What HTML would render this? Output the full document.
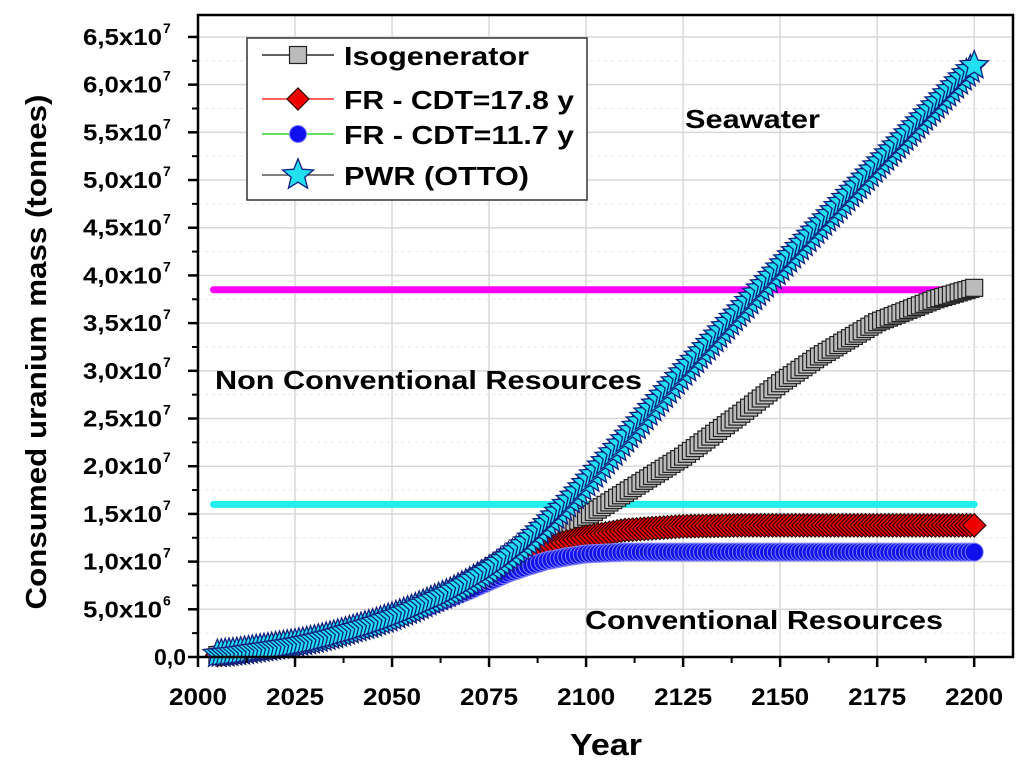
<!DOCTYPE html>
<html><head><meta charset="utf-8"><style>
body{margin:0;background:#fff;}
svg{display:block;font-family:"Liberation Sans",Arial,sans-serif;font-weight:bold;}
</style></head><body>
<svg id="chart" width="1024" height="767" viewBox="0 0 1024 767">
<g id="grid"></g>
<g id="refs"></g>
<g id="series"></g>
<rect x="198" y="15" width="815" height="642" fill="none" stroke="#000" stroke-width="2.5"/>
<g id="axes"></g>
<text x="685" y="128" font-size="26" textLength="135" lengthAdjust="spacingAndGlyphs">Seawater</text>
<text x="215" y="389" font-size="26" textLength="427" lengthAdjust="spacingAndGlyphs">Non Conventional Resources</text>
<text x="585" y="629" font-size="26" textLength="358" lengthAdjust="spacingAndGlyphs">Conventional Resources</text>
<text x="570" y="755" font-size="31" textLength="72" lengthAdjust="spacingAndGlyphs">Year</text>
<text transform="translate(46,352) rotate(-90)" font-size="29" text-anchor="middle" textLength="515" lengthAdjust="spacingAndGlyphs">Consumed uranium mass (tonnes)</text>
<g id="legend">
<rect x="247" y="38" width="340" height="162" fill="#fff" stroke="#333" stroke-width="1.5"/>
</g>
</svg>
<script>
const years = [2005,2010,2015,2020,2025,2030,2035,2040,2045,2050,2055,2060,2065,2070,2075,2080,2085,2090,2095,2100,2110,2125,2140,2150,2160,2175,2190,2200];
const isoValues = [0.02,0.04,0.07,0.10,0.13,0.17,0.22,0.28,0.34,0.41,0.48,0.56,0.65,0.76,0.88,1.00,1.13,1.25,1.36,1.47,1.72,2.10,2.55,2.87,3.15,3.51,3.75,3.87];
const fr178Values = [0.02,0.04,0.07,0.10,0.13,0.17,0.22,0.28,0.34,0.41,0.48,0.56,0.65,0.76,0.88,0.99,1.08,1.15,1.21,1.26,1.33,1.37,1.38,1.38,1.38,1.38,1.38,1.38];
const fr117Values = [0.02,0.04,0.07,0.10,0.13,0.17,0.22,0.28,0.34,0.40,0.47,0.54,0.62,0.70,0.79,0.88,0.95,1.01,1.05,1.08,1.10,1.10,1.10,1.10,1.10,1.10,1.10,1.10];
const pwrValues = [0.03,0.05,0.08,0.11,0.14,0.18,0.23,0.29,0.35,0.42,0.50,0.59,0.68,0.79,0.91,1.05,1.21,1.40,1.60,1.82,2.28,2.98,3.64,4.08,4.51,5.15,5.78,6.20];
const refYears = [2004,2200];
const seawaterLimit = 3.85;
const conventionalLimit = 1.60;
const xTicks = [2000,2025,2050,2075,2100,2125,2150,2175,2200];
const yTicks = [0,0.5,1,1.5,2,2.5,3,3.5,4,4.5,5,5.5,6,6.5];
const yTickLabels = ["0,0","5,0x10|6","1,0x10|7","1,5x10|7","2,0x10|7","2,5x10|7","3,0x10|7","3,5x10|7","4,0x10|7","4,5x10|7","5,0x10|7","5,5x10|7","6,0x10|7","6,5x10|7"];

const NS="http://www.w3.org/2000/svg";
const X0=198,X1=1013,Y0=657,Y1=15;
const xMin=2000,xMax=2210,yMin=0,yMax=6.73;
const sx=v=>X0+(v-xMin)/(xMax-xMin)*(X1-X0);
const sy=v=>Y0-(v-yMin)/(yMax-yMin)*(Y0-Y1);
function mk(tag,attrs,parent){const e=document.createElementNS(NS,tag);for(const k in attrs)e.setAttribute(k,attrs[k]);parent.appendChild(e);return e;}
const grid=document.getElementById('grid'),axes=document.getElementById('axes');
xTicks.forEach((t,i)=>{
  const x=sx(t);
  const g=mk('line',{x1:x,x2:x,y1:Y1,y2:Y0,stroke:'#d8d8d8','stroke-width':1.5},grid);
  
  
  const tk=mk('line',{x1:x,x2:x,y1:Y0,y2:Y0+10,stroke:'#000','stroke-width':2.5},axes);
  
  
  const mx=sx(t+12.5);
  if(mx<X1){const m=mk('line',{x1:mx,x2:mx,y1:Y0,y2:Y0+6,stroke:'#000','stroke-width':2},axes);
  
  }
  const lb=mk('text',{x:x-29,y:705,'font-size':24,textLength:58,lengthAdjust:'spacingAndGlyphs'},axes);
  lb.textContent=t;
  
  
});
yTicks.forEach((t,i)=>{
  const y=sy(t);
  const g=mk('line',{x1:X0,x2:X1,y1:y,y2:y,stroke:'#d8d8d8','stroke-width':1.5},grid);
  
  
  const tk=mk('line',{x1:X0-10,x2:X0,y1:y,y2:y,stroke:'#000','stroke-width':2.5},axes);
  
  
  const my=sy(t+0.25);
  if(my>Y1){const m=mk('line',{x1:X0-6,x2:X0,y1:my,y2:my,stroke:'#000','stroke-width':2},axes);
  
  
  const d=mk('line',{x1:X0,x2:X1,y1:my,y2:my,stroke:'#e6e6e6','stroke-width':1,'stroke-dasharray':'3,4'},grid);
  
  }
  const parts=yTickLabels[i].split('|');
  let lb;
  if(parts.length>1) lb=mk('text',{x:83,y:y+8,'font-size':23,textLength:79,lengthAdjust:'spacingAndGlyphs'},axes);
  else lb=mk('text',{x:186,y:y+8,'font-size':23,'text-anchor':'end'},axes);
  lb.textContent=parts[0];
  
  
  if(parts.length>1){const s=mk('text',{x:163,y:y-4,'font-size':14},axes);s.textContent=parts[1];
  
  }
});
const refs=document.getElementById('refs');
[[seawaterLimit,'#ff00ff','seawater-limit-line'],[conventionalLimit,'#22eeee','conventional-limit-line']].forEach(r=>{
  const l=mk('line',{x1:sx(refYears[0]),x2:sx(refYears[1]),y1:sy(r[0]),y2:sy(r[0]),stroke:r[1],'stroke-width':7,'stroke-linecap':'round'},refs);
  
  
});
function marker(type,x,y,p,s){
  if(type==='square') return mk('rect',{x:x-s/2,y:y-s/2,width:s,height:s,fill:'#bbb',stroke:'#222','stroke-width':1.2},p);
  if(type==='diamond') return mk('polygon',{points:`${x},${y-s*0.65} ${x+s*0.65},${y} ${x},${y+s*0.65} ${x-s*0.65},${y}`,fill:'#e00',stroke:'#300','stroke-width':1.2},p);
  if(type==='circle') return mk('circle',{cx:x,cy:y,r:s/2,fill:'#1010ee',stroke:'#8080ff','stroke-width':1},p);
  let pts=[];for(let k=0;k<10;k++){const a=-Math.PI/2+k*Math.PI/5,r=k%2?s*0.3:s*0.68;pts.push((x+r*Math.cos(a)).toFixed(1)+','+(y+r*Math.sin(a)).toFixed(1));}
  return mk('polygon',{points:pts.join(' '),fill:'#22e0f0',stroke:'#102080','stroke-width':1.3},p);
}
const ser=document.getElementById('series');
function drawSeries(vals,type,color,name,size){
  const g=mk('g',{},ser);
  
  
  const pts=years.map((yr,i)=>[sx(yr),sy(vals[i])]);
  const pl=mk('polyline',{points:pts.map(p=>p.join(',')).join(' '),fill:'none',stroke:color,'stroke-width':1.5},g);
  
  
  for(let i=0;i<pts.length-1;i++){
    const n=Math.max(1,Math.round((years[i+1]-years[i])));
    for(let k=0;k<n;k++){const t=k/n;
      const m=marker(type,pts[i][0]+(pts[i+1][0]-pts[i][0])*t,pts[i][1]+(pts[i+1][1]-pts[i][1])*t,g,size);
      
      }
  }
  const last=pts[pts.length-1];
  const m=marker(type,last[0],last[1],g,size);
  
  
}
drawSeries(isoValues,'square','#000','isogenerator-series',17);
drawSeries(fr178Values,'diamond','#f00','fr-cdt-17-8-series',18);
drawSeries(fr117Values,'circle','#0c0','fr-cdt-11-7-series',18);
drawSeries(pwrValues,'star','#000','pwr-otto-series',22);
const leg=document.getElementById('legend');
[['square','#000','Isogenerator',63,185],['diamond','#f00','FR - CDT=17.8 y',107,230],['circle','#0c0','FR - CDT=11.7 y',142,230],['star','#333','PWR (OTTO)',183,185]].forEach(e=>{
  const g=mk('g',{},leg);
  
  
  mk('line',{x1:262,x2:334,y1:e[3]-8,y2:e[3]-8,stroke:e[1],'stroke-width':1.2},g);
  marker(e[0],298,e[3]-8,g,e[0]==='star'?24:17);
  const t=mk('text',{x:344,y:e[3]+2,'font-size':26,textLength:e[4],lengthAdjust:'spacingAndGlyphs'},g);t.textContent=e[2];
});
</script>
</body></html>
